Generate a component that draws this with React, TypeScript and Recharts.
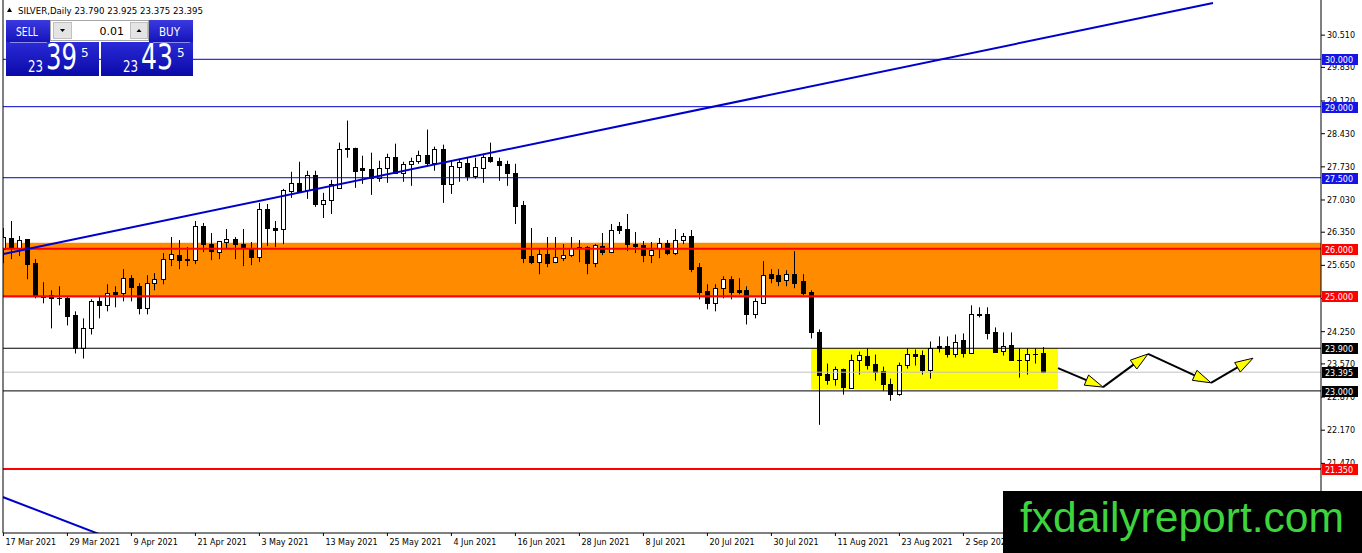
import React from "react";
import {
  ComposedChart,
  Bar,
  XAxis,
  YAxis,
  ReferenceLine,
  ReferenceArea,
} from "recharts";

// SILVER daily candles (bar 0 = 17 Mar 2021)
const opens = [
  25.993, 26.227, 26.015, 26.206, 25.697, 24.997, 25.018, 24.955, 24.955, 24.594,
  23.916, 24.319, 24.891, 24.806, 25.082, 25.061, 25.379, 25.209, 24.743, 25.273,
  25.357, 25.781, 25.866, 25.781, 25.76, 26.481, 26.099, 25.93, 26.142, 26.206,
  26.099, 26.015, 25.824, 26.841, 26.439, 26.418, 27.223, 27.393, 27.244, 27.562,
  26.947, 27.032, 27.287, 28.113, 28.135, 27.711, 27.69, 27.498, 27.711, 27.944,
  27.605, 27.795, 27.859, 27.986, 27.817, 28.113, 27.371, 27.732, 27.817, 27.541,
  27.711, 27.944, 27.859, 27.795, 27.605, 26.926, 25.845, 25.718, 25.887, 25.718,
  25.802, 25.866, 26.036, 26.036, 25.697, 26.057, 25.93, 26.481, 26.418, 26.099,
  26.078, 25.866, 26.015, 26.12, 25.909, 26.184, 26.269, 25.612, 25.103, 24.849,
  25.167, 25.357, 25.124, 25.124, 24.615, 24.849, 25.463, 25.442, 25.336, 25.463,
  25.315, 25.082, 24.234, 23.365, 23.259, 23.471, 23.068, 23.661, 23.746, 23.577,
  23.428, 23.153, 22.941, 23.555, 23.789, 23.767, 23.449, 23.958, 23.958, 23.789,
  24.064, 23.81, 24.615, 24.615, 24.234, 23.852, 23.979, 23.661, 23.661, 23.77,
  23.79,
]
const highs = [
  26.439, 26.587, 26.269, 26.206, 25.781, 25.294, 25.124, 25.209, 24.997, 24.679,
  24.531, 24.933, 24.997, 25.251, 25.209, 25.57, 25.442, 25.273, 25.442, 25.485,
  25.909, 26.248, 26.184, 26.036, 26.587, 26.545, 26.333, 26.163, 26.418, 26.248,
  26.418, 26.142, 26.969, 26.947, 26.587, 27.265, 27.626, 27.838, 27.647, 27.647,
  27.181, 27.456, 28.241, 28.707, 28.135, 27.965, 28.029, 27.859, 28.007, 28.219,
  27.838, 27.923, 28.071, 28.516, 28.156, 28.198, 27.859, 27.901, 27.923, 27.923,
  28.007, 28.241, 27.923, 27.859, 27.795, 27.011, 26.439, 26.015, 26.248, 26.248,
  26.099, 26.248, 26.184, 26.057, 26.099, 26.333, 26.523, 26.566, 26.735, 26.354,
  26.163, 26.142, 26.227, 26.184, 26.418, 26.333, 26.396, 25.697, 25.251, 25.251,
  25.421, 25.421, 25.379, 25.209, 24.955, 25.739, 25.57, 25.57, 25.548, 25.951,
  25.463, 25.124, 24.298, 23.577, 23.513, 23.471, 23.767, 23.831, 23.895, 23.767,
  23.513, 23.259, 23.598, 23.895, 23.873, 23.852, 24.043, 24.149, 24.149, 24.191,
  24.213, 24.806, 24.764, 24.764, 24.34, 24.234, 24.234, 23.895, 23.895, 23.895,
  23.925,
]
const lows = [
  25.697, 25.781, 25.845, 25.357, 24.955, 24.849, 24.319, 24.806, 24.382, 23.789,
  23.683, 24.191, 24.531, 24.679, 24.764, 24.891, 24.891, 24.615, 24.615, 25.124,
  25.251, 25.633, 25.57, 25.633, 25.675, 25.93, 25.76, 25.781, 26.015, 25.781,
  25.633, 25.654, 25.718, 26.057, 26.036, 26.099, 27.075, 27.202, 27.053, 26.884,
  26.651, 26.735, 27.287, 27.923, 27.287, 27.371, 27.138, 27.414, 27.393, 27.583,
  27.414, 27.329, 27.795, 27.753, 27.647, 26.969, 27.159, 27.414, 27.435, 27.477,
  27.393, 27.817, 27.435, 27.329, 26.523, 25.697, 25.675, 25.463, 25.612, 25.697,
  25.739, 25.824, 25.718, 25.463, 25.612, 25.866, 25.909, 26.311, 25.951, 25.909,
  25.718, 25.697, 25.802, 25.866, 25.866, 26.099, 25.506, 24.933, 24.721, 24.679,
  24.955, 24.933, 25.039, 24.403, 24.531, 24.849, 25.273, 25.209, 25.209, 25.167,
  25.018, 24.107, 22.283, 23.131, 23.11, 22.92, 23.068, 23.344, 23.449, 23.216,
  23.004, 22.792, 22.898, 23.471, 23.534, 23.344, 23.259, 23.81, 23.704, 23.704,
  23.704, 23.789, 24.552, 24.086, 23.81, 23.746, 23.64, 23.28, 23.344, 23.577,
  23.375,
]
const closes = [
  26.248, 26.015, 26.184, 25.675, 24.997, 24.99, 24.955, 24.96, 24.573, 23.916,
  24.319, 24.891, 24.806, 25.061, 25.039, 25.379, 25.188, 24.743, 25.273, 25.357,
  25.781, 25.887, 25.76, 25.76, 26.481, 26.099, 25.951, 26.163, 26.206, 26.099,
  26.015, 25.824, 26.841, 26.439, 26.396, 27.244, 27.393, 27.223, 27.562, 26.947,
  27.032, 27.371, 28.113, 28.135, 27.647, 27.668, 27.498, 27.711, 27.944, 27.605,
  27.795, 27.859, 27.986, 27.817, 28.113, 27.371, 27.753, 27.838, 27.541, 27.732,
  27.944, 27.859, 27.774, 27.605, 26.905, 25.802, 25.718, 25.887, 25.697, 25.824,
  25.866, 26.015, 26.02, 25.697, 26.078, 25.93, 26.396, 26.396, 26.099, 26.057,
  25.866, 25.972, 26.12, 25.909, 26.184, 26.269, 25.57, 25.082, 24.849, 25.167,
  25.357, 25.082, 25.082, 24.615, 24.891, 25.442, 25.379, 25.315, 25.463, 25.273,
  25.061, 24.234, 23.344, 23.238, 23.471, 23.089, 23.661, 23.767, 23.555, 23.407,
  23.153, 22.941, 23.555, 23.789, 23.746, 23.449, 23.915, 23.915, 23.789, 24.022,
  23.81, 24.615, 24.6, 24.213, 23.831, 23.958, 23.661, 23.645, 23.789, 23.78,
  23.395,
]

// one date label every 8 bars
const dateLabels = [
  "17 Mar 2021", "29 Mar 2021", "9 Apr 2021", "21 Apr 2021", "3 May 2021",
  "13 May 2021", "25 May 2021", "4 Jun 2021", "16 Jun 2021", "28 Jun 2021",
  "8 Jul 2021", "20 Jul 2021", "30 Jul 2021", "11 Aug 2021", "23 Aug 2021",
  "2 Sep 2021",
]
const priceTicks = [
  30.51, 29.83, 29.12, 28.43, 27.73, 27.03, 26.35, 25.65, 24.95, 24.25, 23.57,
  22.87, 22.17, 21.47,
]

const blueLevels = [30, 29, 27.5]
const redLevels = [26, 25, 21.35]
const blackLevels = [23.9, 23]
const bidPrice = 23.395

const supplyZone = [24.97, 26.13]
const rangeBox = { from: 100.95, to: 131.83, low: 23.04, high: 23.9 }
const trendUp = [{ x: 0, y: 25.89 }, { x: 151.2, y: 31.19 }]
const trendDown = [{ x: -1, y: 20.82 }, { x: 13, y: 19.91 }]
const forecast = [
  { x: 131.83, y: 23.48 },
  { x: 137.45, y: 23.08 },
  { x: 143.08, y: 23.78 },
  { x: 150.95, y: 23.17 },
  { x: 156.2, y: 23.69 },
]

const data = opens.map((o, i) => ({
  i,
  o,
  h: highs[i],
  l: lows[i],
  c: closes[i],
  range: [lows[i], highs[i]],
}))
const dateTicks = dateLabels.map((_, k) => k * 8)
const tagValues = [...blueLevels, ...redLevels, bidPrice, ...blackLevels]

const W = 1362
const H = 553
const X_DOMAIN = [-0.05, 164.7]
const Y_DOMAIN = [20, 31.252]
const FONT = "DejaVu Sans, Verdana, sans-serif"
const LINE_BLUE = "#0000cd"
const TAG_OFFSET = 39 // tag axis sits just right of the 40px price axis

function Candle(props: any) {
  const { x, y, width, height, payload } = props
  if (!payload || !isFinite(y) || !isFinite(height)) return null
  const { o, h, l, c } = payload
  const top = Math.min(y, y + height)
  const span = Math.abs(height)
  const k = span / (h - l || 1)
  const py = (p: number) => top + (h - p) * k
  const c0 = Math.floor(x + width / 2)
  const bull = c >= o
  const bTop = Math.round(py(Math.max(o, c))) + 0.5
  const bBot = Math.round(py(Math.min(o, c))) + 0.5
  return (
    <g>
      <line x1={c0 + 0.5} x2={c0 + 0.5} y1={top} y2={top + span} stroke="#000" />
      {bBot - bTop < 1 ? (
        <line x1={c0 - 2} x2={c0 + 3} y1={bTop} y2={bTop} stroke="#000" />
      ) : (
        <rect
          x={c0 - 1.5}
          y={bTop}
          width={4}
          height={bBot - bTop}
          fill={bull ? "#fff" : "#000"}
          stroke="#000"
        />
      )}
    </g>
  )
}

function DateTick(props: any) {
  const { x, y, payload } = props
  const k = dateTicks.indexOf(payload.value)
  return (
    <text x={x + 2} y={y + 7} fontSize={8} fontFamily={FONT} fill="#000">
      {dateLabels[k]}
    </text>
  )
}

function PriceTick(props: any) {
  const { x, y, payload } = props
  return (
    <text x={x} y={y + 3} fontSize={8} fontFamily={FONT} fill="#000">
      {payload.value.toFixed(3)}
    </text>
  )
}

function TagTick(props: any) {
  const { x, y, payload } = props
  const v = payload.value
  const bg = blueLevels.includes(v)
    ? "#1414e6"
    : redLevels.includes(v)
      ? "#ff0000"
      : "#000"
  const left = x - TAG_OFFSET
  const cy = Math.round(y)
  return (
    <g>
      <rect x={left} y={cy - 5} width={36} height={11} fill={bg} />
      <text x={left + 3} y={cy + 3.5} fontSize={8} fontFamily={FONT} fill="#fff">
        {v.toFixed(3)}
      </text>
    </g>
  )
}

function Arrow(props: any) {
  const { x1, y1, x2, y2 } = props
  if (![x1, y1, x2, y2].every(isFinite)) return null
  const len = Math.hypot(x2 - x1, y2 - y1) || 1
  const ux = (x2 - x1) / len
  const uy = (y2 - y1) / len
  const bx = x2 - ux * 18
  const by = y2 - uy * 18
  const pts = `${x2},${y2} ${bx - uy * 5.5},${by + ux * 5.5} ${bx + uy * 5.5},${by - ux * 5.5}`
  return (
    <g>
      <line x1={x1} y1={y1} x2={bx} y2={by} stroke="#000" strokeWidth={2} />
      <polygon points={pts} fill="#ffff00" stroke="#000" strokeWidth={1} />
    </g>
  )
}

function TradePanel() {
  return (
    <svg
      width={W}
      height={H}
      style={{ position: "absolute", left: 0, top: 0, pointerEvents: "none" }}
    >
      <defs>
        <linearGradient id="btn" x1="0" y1="0" x2="0" y2="1">
          <stop offset="0" stopColor="#3a3ae0" />
          <stop offset="1" stopColor="#1212b8" />
        </linearGradient>
        <linearGradient id="box" x1="0" y1="0" x2="0" y2="1">
          <stop offset="0" stopColor="#2a2ad8" />
          <stop offset="1" stopColor="#0a0aa8" />
        </linearGradient>
      </defs>
      <polygon points="7,12 12,12 9.5,7.5" fill="#000" />
      <text x={18} y={13.5} fontSize={8.5} fontFamily={FONT} fill="#000" textLength={185} lengthAdjust="spacingAndGlyphs">
        SILVER,Daily  23.790 23.925 23.375 23.395
      </text>

      <rect x={6} y={20} width={44} height={23} fill="url(#btn)" />
      <rect x={149} y={20} width={44} height={23} fill="url(#btn)" />
      <rect x={6} y={42} width={93} height={34} fill="url(#box)" />
      <rect x={101} y={42} width={92} height={34} fill="url(#box)" />
      <line x1={10} x2={47} y1={42.5} y2={42.5} stroke="#8c8ce8" />
      <line x1={153} x2={190} y1={42.5} y2={42.5} stroke="#8c8ce8" />
      <text x={16} y={36} fontSize={12} fontFamily={FONT} fill="#fff" textLength={22} lengthAdjust="spacingAndGlyphs">SELL</text>
      <text x={159} y={36} fontSize={12} fontFamily={FONT} fill="#fff" textLength={21} lengthAdjust="spacingAndGlyphs">BUY</text>

      <rect x={50.5} y={20.5} width={98} height={20} fill="#fff" stroke="#a8a8a8" />
      <rect x={53.5} y={22.5} width={18} height={16} fill="#e4e4e4" stroke="#c0c0c0" />
      <rect x={130.5} y={22.5} width={17} height={16} fill="#e4e4e4" stroke="#c0c0c0" />
      <polygon points="60,29 65,29 62.5,32" fill="#000" />
      <polygon points="136.5,32 141.5,32 139,29" fill="#000" />
      <text x={124} y={34.5} fontSize={11} fontFamily={FONT} fill="#000" textAnchor="end">0.01</text>

      <text x={28} y={71.5} fontSize={15} fontFamily={FONT} fill="#fff" textLength={15} lengthAdjust="spacingAndGlyphs">23</text>
      <text x={46} y={69} fontSize={35} fontFamily={FONT} fill="#fff" textLength={31} lengthAdjust="spacingAndGlyphs">39</text>
      <text x={81} y={56.5} fontSize={12} fontFamily={FONT} fill="#fff">5</text>
      <text x={123} y={71.5} fontSize={15} fontFamily={FONT} fill="#fff" textLength={15} lengthAdjust="spacingAndGlyphs">23</text>
      <text x={141} y={69} fontSize={35} fontFamily={FONT} fill="#fff" textLength={32} lengthAdjust="spacingAndGlyphs">43</text>
      <text x={177} y={56.5} fontSize={12} fontFamily={FONT} fill="#fff">5</text>

      <rect x={1003} y={491} width={359} height={62} fill="#000" />
      <text
        x={1020}
        y={532}
        fontSize={43}
        fontFamily="Liberation Sans Narrow, Liberation Sans, Arial, sans-serif"
        fill="#3dd43d"
        textLength={324}
        lengthAdjust="spacingAndGlyphs"
      >
        fxdailyreport.com
      </text>
    </svg>
  )
}

export default function App() {
  return (
    <div
      style={{
        position: "absolute",
        left: 0,
        top: 0,
        width: W,
        height: H,
        background: "#fff",
        overflow: "hidden",
      }}
    >
      <ComposedChart
        width={W}
        height={H}
        data={data}
        margin={{ top: 0, right: 0, bottom: 0, left: 0 }}
      >
        <XAxis
          dataKey="i"
          type="number"
          domain={X_DOMAIN}
          allowDataOverflow
          ticks={dateTicks}
          interval={0}
          height={20}
          tickSize={3}
          axisLine={{ stroke: "#000" }}
          tickLine={{ stroke: "#000" }}
          tick={(p: any) => <DateTick {...p} />}
        />
        <YAxis
          yAxisId="l"
          orientation="left"
          type="number"
          width={3}
          domain={Y_DOMAIN}
          allowDataOverflow
          tick={false}
          tickLine={false}
          axisLine={{ stroke: "#000" }}
        />
        <YAxis
          yAxisId="r"
          orientation="right"
          type="number"
          width={40}
          domain={Y_DOMAIN}
          allowDataOverflow
          ticks={priceTicks}
          interval={0}
          tickSize={4}
          axisLine={{ stroke: "#000" }}
          tickLine={{ stroke: "#000" }}
          tick={(p: any) => <PriceTick {...p} />}
        />
        <YAxis
          yAxisId="tags"
          orientation="right"
          type="number"
          width={1}
          domain={Y_DOMAIN}
          allowDataOverflow
          ticks={tagValues}
          interval={0}
          tickSize={0}
          tickMargin={0}
          axisLine={false}
          tickLine={false}
          tick={(p: any) => <TagTick {...p} />}
        />

        <ReferenceArea
          yAxisId="r"
          y1={supplyZone[0]}
          y2={supplyZone[1]}
          fill="#ff8c00"
          fillOpacity={1}
          stroke="none"
        />
        <ReferenceArea
          yAxisId="r"
          x1={rangeBox.from}
          x2={rangeBox.to}
          y1={rangeBox.low}
          y2={rangeBox.high}
          fill="#ffff00"
          fillOpacity={1}
          stroke="none"
        />

        <Bar
          yAxisId="r"
          dataKey="range"
          barSize={8}
          shape={(p: any) => <Candle {...p} />}
          isAnimationActive={false}
        />

        {blueLevels.map((v) => (
          <ReferenceLine key={"b" + v} yAxisId="r" y={v} stroke={LINE_BLUE} strokeWidth={1} />
        ))}
        {redLevels.map((v) => (
          <ReferenceLine key={"r" + v} yAxisId="r" y={v} stroke="#ff0000" strokeWidth={2} />
        ))}
        <ReferenceLine yAxisId="r" y={bidPrice} stroke="#c0c0c0" strokeWidth={1} />
        {blackLevels.map((v) => (
          <ReferenceLine key={"k" + v} yAxisId="r" y={v} stroke="#000" strokeWidth={1} />
        ))}

        <ReferenceLine
          yAxisId="r"
          segment={trendUp}
          stroke={LINE_BLUE}
          strokeWidth={2}
          ifOverflow="hidden"
        />
        <ReferenceLine
          yAxisId="r"
          segment={trendDown}
          stroke={LINE_BLUE}
          strokeWidth={2}
          ifOverflow="hidden"
        />
        {forecast.slice(1).map((pt, k) => (
          <ReferenceLine
            key={"a" + k}
            yAxisId="r"
            segment={[forecast[k], pt]}
            ifOverflow="visible"
            shape={(p: any) => <Arrow {...p} />}
          />
        ))}
      </ComposedChart>
      <TradePanel />
    </div>
  )
}
